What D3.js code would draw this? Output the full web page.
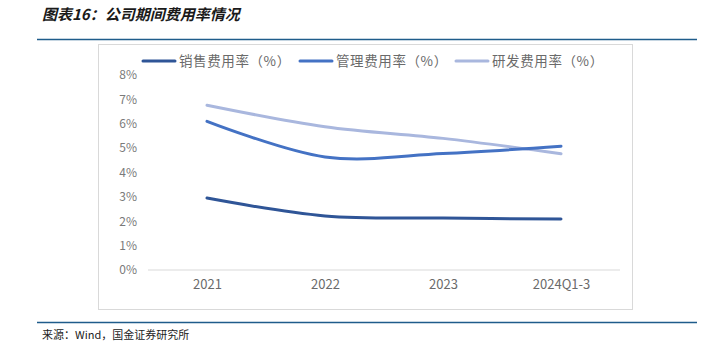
<!DOCTYPE html>
<html>
<head>
<meta charset="utf-8">
<script src="https://cdn.jsdelivr.net/npm/d3@7"></script>
<style>
body { margin: 0; background: #fff; }
</style>
</head>
<body>
<script>
var categories = ["2021", "2022", "2023", "2024Q1-3"]
var sales = [2.95, 2.22, 2.13, 2.09]
var admin = [6.1, 4.64, 4.78, 5.08]
var rnd = [6.76, 5.88, 5.4, 4.77]
var seriesNames = ["销售费用率（%）", "管理费用率（%）", "研发费用率（%）"]
var yTicks = [0, 1, 2, 3, 4, 5, 6, 7, 8]

var wd = 722, ht = 351
var cols = ["#2F5597", "#4472C4", "#A9B7DE"]
var font = "'Noto Sans CJK SC', 'Liberation Sans', sans-serif"

var svg = d3.select("body").append("svg")
  .attr("width", wd)
  .attr("height", ht)

// title
svg.append("text")
  .attr("x", 42).attr("y", 20)
  .attr("font-family", font)
  .attr("font-size", 15)
  .attr("font-weight", "bold")
  .attr("font-style", "italic")
  .attr("fill", "#1a1a1a")
  .text("图表16：公司期间费用率情况")

svg.append("line").attr("x1", 37).attr("x2", 697).attr("y1", 39.5).attr("y2", 39.5)
  .attr("stroke", "#1F5C8B").attr("stroke-width", 1.5)
svg.append("line").attr("x1", 37).attr("x2", 697).attr("y1", 322.5).attr("y2", 322.5)
  .attr("stroke", "#1F5C8B").attr("stroke-width", 1.5)

// chart frame
svg.append("rect").attr("x", 98.5).attr("y", 44.5).attr("width", 534).attr("height", 265)
  .attr("fill", "none").attr("stroke", "#D9D9D9")

svg.append("text")
  .attr("x", 42).attr("y", 339)
  .attr("font-family", font)
  .attr("font-size", 11)
  .attr("fill", "#222")
  .text("来源：Wind，国金证券研究所")

var x = d3.scalePoint().domain(categories).range([207, 561])
var y = d3.scaleLinear().domain([0, 8]).range([270, 75])

// 0% baseline
svg.append("line").attr("x1", 148).attr("x2", 620).attr("y1", y(0)).attr("y2", y(0))
  .attr("stroke", "#D9D9D9").attr("stroke-width", 1)

var yAxis = d3.axisLeft(y).tickValues(yTicks).tickSize(0).tickPadding(0)
  .tickFormat(function(d) { return d + "%" })
var gy = svg.append("g").attr("transform", "translate(137,0)").call(yAxis)
gy.select(".domain").remove()
gy.selectAll("text").attr("font-family", font).attr("font-size", 12).attr("fill", "#7a7a7a")

var xAxis = d3.axisBottom(x).tickSize(0).tickPadding(0)
var gx = svg.append("g").attr("transform", "translate(0,280)").call(xAxis)
gx.select(".domain").remove()
gx.selectAll("text").attr("font-family", font).attr("font-size", 13).attr("fill", "#6a6a6a").attr("dy", "0.7em")

var line = d3.line()
  .x(function(d, i) { return x(categories[i]) })
  .y(function(d) { return y(d) })
  .curve(d3.curveCatmullRom.alpha(0))

var allSeries = [sales, admin, rnd]
// draw light series first so the others sit on top like the reference
;[2, 1, 0].forEach(function(k) {
  svg.append("path")
    .attr("d", line(allSeries[k]))
    .attr("fill", "none")
    .attr("stroke", cols[k])
    .attr("stroke-width", 3)
    .attr("stroke-linecap", "round")
})

// legend
var legX = [143, 300, 456]
seriesNames.forEach(function(n, i) {
  var g = svg.append("g").attr("transform", "translate(" + legX[i] + ",61)")
  g.append("line").attr("x1", 0).attr("x2", 32).attr("y1", 0).attr("y2", 0)
    .attr("stroke", cols[i]).attr("stroke-width", 3).attr("stroke-linecap", "round")
  g.append("text").attr("x", 36).attr("y", 0).attr("dy", "0.35em")
    .attr("font-family", font).attr("font-size", 13.5).attr("fill", "#6a6a6a")
    .attr("letter-spacing", 0.6)
    .text(n)
})
</script>
</body>
</html>
